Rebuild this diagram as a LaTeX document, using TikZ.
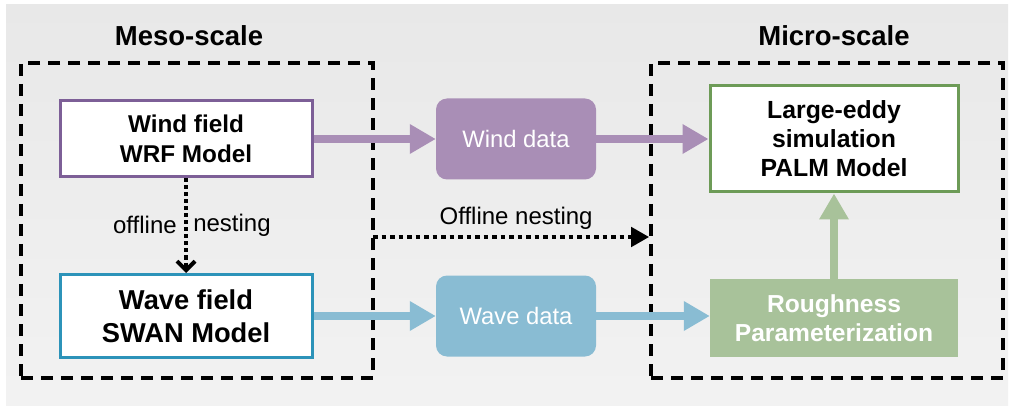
\documentclass[tikz,border=0pt]{standalone}
\usepackage{fontspec}
\setmainfont{Liberation Sans}
\usetikzlibrary{arrows.meta}
\definecolor{purpB}{HTML}{7D5F97}
\definecolor{purpF}{HTML}{A98EB6}
\definecolor{blueB}{HTML}{2C93B9}
\definecolor{blueF}{HTML}{89BCD3}
\definecolor{greenB}{HTML}{6D9B57}
\definecolor{greenF}{HTML}{A8C29A}
\tikzset{
  regionbox/.style={draw=black, line width=3.6pt, dash pattern=on 12pt off 8pt, minimum width=352pt, minimum height=315pt, inner sep=0pt},
  modelbox/.style={draw=#1, fill=white, line width=3pt, inner sep=0pt, align=center},
  databox/.style={fill=#1, rounded corners=11pt, text=white, minimum width=160pt, minimum height=81pt, inner sep=0pt, align=center, font=\fontsize{23.8}{30}\selectfont},
  flow/.style={draw=#1, line width=8pt, -{Triangle[length=26pt,width=28pt]}},
  dotline/.style={draw=black, line width=4.5pt, dash pattern=on 4.5pt off 4pt},
  vdotline/.style={draw=black, line width=4.5pt, dash pattern=on 4pt off 3pt},
  title/.style={font=\fontsize{27.5}{32}\selectfont\bfseries}
}
\begin{document}
\begin{tikzpicture}[x=1pt,y=-1pt]
\useasboundingbox (0,0) rectangle (1012,406);
\shade[top color=black!9, bottom color=black!5] (6,5) rectangle (1008,405);

\node[title] (meso) at (189,36) {Meso-scale};
\node[title] (micro) at (834,36) {Micro-scale};

\node[regionbox] (mesobox) at (197,220.5) {};
\node[regionbox] (microbox) at (827,220.5) {};

\node[modelbox=purpB, minimum width=252pt, minimum height=76pt, font=\fontsize{24.3}{30}\selectfont\bfseries] (wind) at (186,139) {Wind field\\WRF Model};
\node[modelbox=blueB, minimum width=252pt, minimum height=83pt, font=\fontsize{27.3}{33}\selectfont\bfseries] (wave) at (186,316) {Wave field\\SWAN Model};
\node[modelbox=greenB, minimum width=248pt, minimum height=106pt, font=\fontsize{24.8}{29}\selectfont\bfseries] (les) at (834,139) {Large-eddy\\simulation\\PALM Model};

\node[databox=purpF] (winddata) at (516,139) {Wind data};
\node[databox=blueF] (wavedata) at (516,316) {Wave data};
\node[fill=greenF, text=white, minimum width=248pt, minimum height=78pt, inner sep=0pt, align=center, font=\fontsize{24.6}{29}\selectfont\bfseries] (rough) at (834,318) {Roughness\\Parameterization};

\draw[flow=purpF] (wind.east) -- (winddata.west);
\draw[flow=purpF] (winddata.east) -- (les.west);
\draw[flow=blueF] (wave.east) -- (wavedata.west);
\draw[flow=blueF] (wavedata.east) -- (rough.west |- wavedata.east);
\draw[flow=greenF] (rough.north) -- (les.south);

\draw[vdotline, -{Straight Barb[length=9pt,width=18pt,line width=4pt]}] (wind.south) -- (wave.north)
  node[pos=0.49, left, inner sep=7pt, font=\fontsize{24}{28}\selectfont] (off1) {offline}
  node[pos=0.49, right, inner sep=5pt, font=\fontsize{24}{28}\selectfont] (off2) {nesting};

\coordinate (nestA) at (373,237);
\draw[dotline, -{Triangle[length=18pt,width=19pt]}] (nestA) -- (microbox.west |- nestA)
  node[midway, above, yshift=2pt, xshift=5pt, font=\fontsize{24}{28}\selectfont] (offn) {Offline nesting};
\end{tikzpicture}
\end{document}
